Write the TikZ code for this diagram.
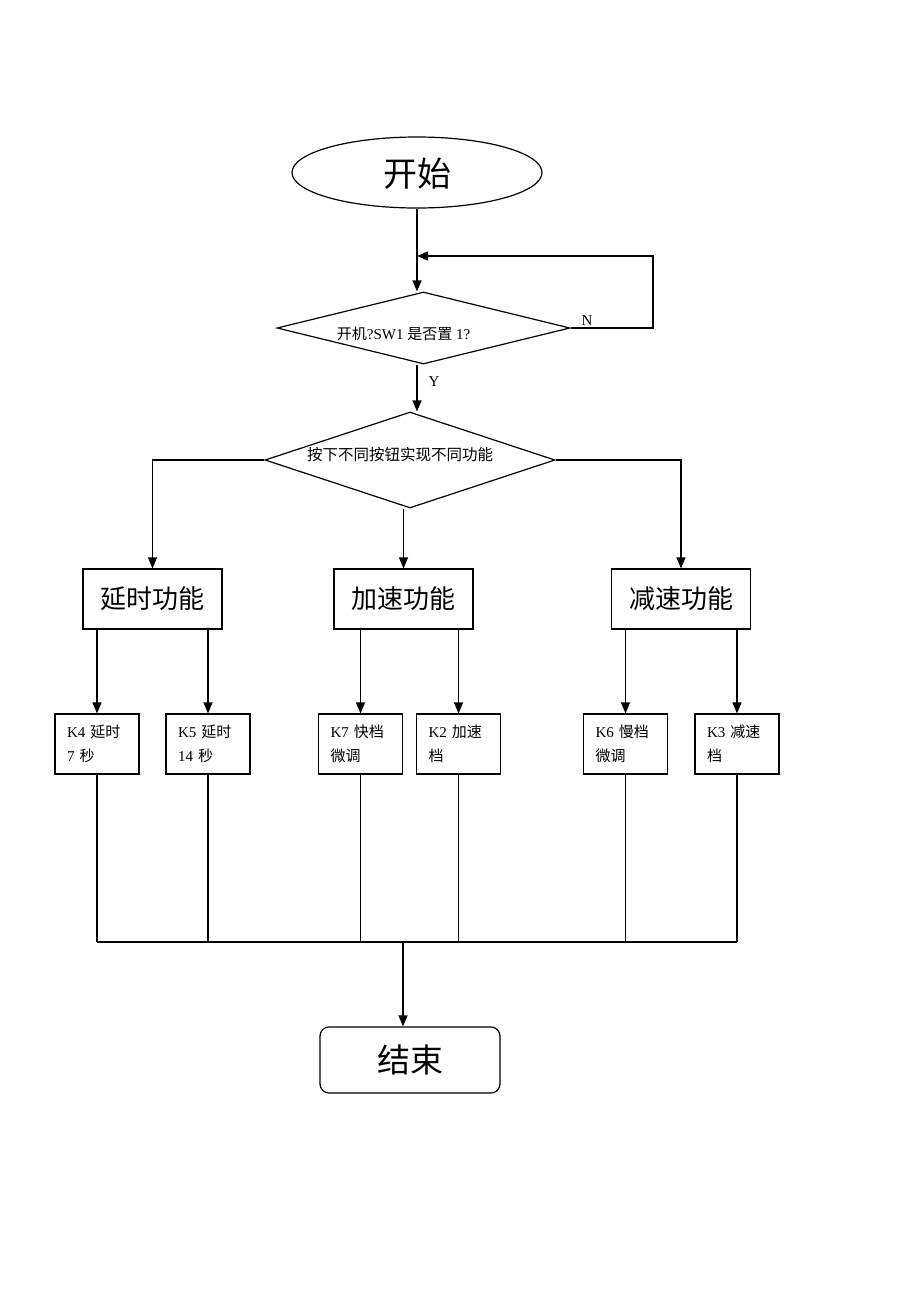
\documentclass[tikz,border=0pt]{standalone}
\usepackage{fontspec}
\setmainfont{Liberation Serif}
\newfontfamily\cjk{Noto Sans CJK SC}
\usetikzlibrary{shapes.geometric,arrows.meta}
\begin{document}
\begin{tikzpicture}[x=1pt,y=-1pt,line width=1.2pt,
  >={Triangle[length=11pt,width=9pt]},
  bigbox/.style={draw,rectangle,minimum width=139pt,minimum height=60pt,inner sep=0pt,font=\cjk\fontsize{26}{30}\selectfont},
  smallbox/.style={draw,rectangle,minimum width=84pt,minimum height=60pt,text width=60pt,align=left,inner sep=0pt,font=\fontsize{15}{24}\selectfont},
  decision/.style={draw,diamond,inner sep=0pt},
  lbl/.style={font=\fontsize{15}{18}\selectfont,inner sep=0pt}]
\useasboundingbox (0,0) rectangle (920,1302);
\fill[white] (0,0) rectangle (920,1302);

% start
\node[draw,ellipse,minimum width=250pt,minimum height=71pt,inner sep=0pt,text depth=0pt,font=\cjk\fontsize{34}{40}\selectfont] (start) at (417,172.5) {开始};

% decision 1
\node[decision,minimum width=293pt,minimum height=72pt] (d1) at (423.5,328) {};
\node[lbl] (d1t) at (403.5,334) {{\cjk 开机}?SW1 {\cjk 是否置} 1?};
\node[lbl] (nlab) at (587,321) {N};
\node[lbl] (ylab) at (434,382) {Y};
\coordinate (loopR) at (653,256);

% decision 2
\node[decision,minimum width=290pt,minimum height=96pt] (d2) at (410,460) {};
\node[lbl,font=\cjk\fontsize{15.5}{18}\selectfont] (d2t) at (400,455) {按下不同按钮实现不同功能};

% function boxes
\node[bigbox] (b1) at (152.5,599) {延时功能};
\node[bigbox] (b2) at (403.5,599) {加速功能};
\node[bigbox] (b3) at (681,599) {减速功能};

% small boxes
\node[smallbox] (s1) at (97,744) {K4 {\cjk 延时}\\7 {\cjk 秒}};
\node[smallbox] (s2) at (208,744) {K5 {\cjk 延时}\\14 {\cjk 秒}};
\node[smallbox] (s3) at (360.5,744) {K7 {\cjk 快档}\\{\cjk 微调}};
\node[smallbox] (s4) at (458.5,744) {K2 {\cjk 加速}\\{\cjk 档}};
\node[smallbox] (s5) at (625.5,744) {K6 {\cjk 慢档}\\{\cjk 微调}};
\node[smallbox] (s6) at (737,744) {K3 {\cjk 减速}\\{\cjk 档}};

% end
\node[draw,rectangle,rounded corners=9pt,minimum width=180pt,minimum height=66pt,inner sep=0pt,font=\cjk\fontsize{33}{40}\selectfont] (end) at (410,1060) {结束};
\coordinate (bus) at (403,942);

% connectors
\draw[->] (start.south) -- (start.south |- d1.north);
\draw[->] (d1.east) -| (loopR) -- (loopR -| start.south);
\draw[->] (start.south |- d1.south) -- (start.south |- d2.north);
\draw[->] (d2.west) -| (b1.north);
\draw[->] (d2.east) -| (b3.north);
\draw[->] (b2.north |- d2.south) -- (b2.north);

\draw[->] (s1.north |- b1.south) -- (s1.north);
\draw[->] (s2.north |- b1.south) -- (s2.north);
\draw[->] (s3.north |- b2.south) -- (s3.north);
\draw[->] (s4.north |- b2.south) -- (s4.north);
\draw[->] (s5.north |- b3.south) -- (s5.north);
\draw[->] (s6.north |- b3.south) -- (s6.north);

\draw (s1.south) -- (s1.south |- bus);
\draw (s2.south) -- (s2.south |- bus);
\draw (s3.south) -- (s3.south |- bus);
\draw (s4.south) -- (s4.south |- bus);
\draw (s5.south) -- (s5.south |- bus);
\draw (s6.south) -- (s6.south |- bus);
\draw (s1.south |- bus) -- (s6.south |- bus);
\draw[->] (bus) -- (bus |- end.north);
\end{tikzpicture}
\end{document}
